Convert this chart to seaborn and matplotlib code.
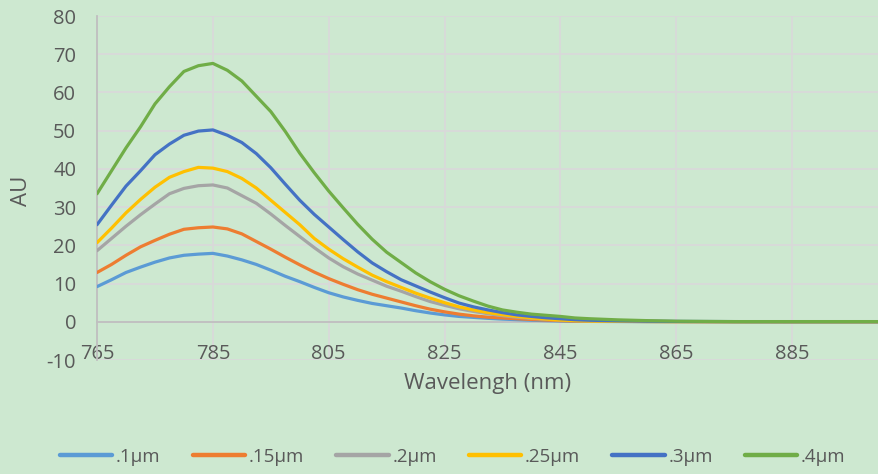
import matplotlib
matplotlib.use("Agg")
import matplotlib.pyplot as plt
import seaborn as sns
import pandas as pd

wavelength = [765, 767.5, 770, 772.5, 775, 777.5, 780, 782.5, 785, 787.5, 790, 792.5, 795, 797.5,
              800, 802.5, 805, 807.5, 810, 812.5, 815, 817.5, 820, 822.5, 825, 827.5, 830, 832.5,
              835, 837.5, 840, 842.5, 845, 847.5, 850, 855, 860, 865, 870, 875, 880, 885, 890, 895, 900]

s_01 = [9.2, 11.0, 12.9, 14.3, 15.6, 16.7, 17.4, 17.7, 17.9, 17.2, 16.2, 15.0, 13.5, 11.9,
        10.5, 9.0, 7.6, 6.5, 5.6, 4.8, 4.2, 3.6, 2.9, 2.3, 1.8, 1.4, 1.15, 0.9,
        0.7, 0.55, 0.4, 0.3, 0.2, 0.15, 0.1, 0.07, 0.05, 0.04, 0.03, 0.03, 0.02, 0.02, 0.02, 0.02, 0.02]
s_015 = [12.9, 15.0, 17.4, 19.6, 21.3, 22.9, 24.2, 24.6, 24.8, 24.3, 23.0, 21.0, 19.0, 16.9,
         14.9, 13.0, 11.3, 9.8, 8.4, 7.2, 6.2, 5.2, 4.2, 3.3, 2.6, 2.0, 1.55, 1.2,
         1.0, 0.8, 0.6, 0.45, 0.3, 0.2, 0.15, 0.1, 0.07, 0.05, 0.04, 0.03, 0.03, 0.02, 0.02, 0.02, 0.02]
s_02 = [18.6, 21.8, 25.0, 28.0, 30.8, 33.5, 34.9, 35.6, 35.8, 35.0, 33.0, 31.0, 28.2, 25.2,
        22.3, 19.4, 16.7, 14.4, 12.5, 10.9, 9.3, 8.0, 6.6, 5.3, 4.3, 3.4, 2.7, 2.1,
        1.6, 1.2, 0.9, 0.65, 0.45, 0.3, 0.2, 0.12, 0.08, 0.05, 0.04, 0.03, 0.03, 0.02, 0.02, 0.02, 0.02]
s_025 = [20.7, 24.5, 28.5, 32.0, 35.2, 37.8, 39.3, 40.4, 40.2, 39.3, 37.5, 35.0, 31.8, 28.6,
         25.4, 21.8, 19.0, 16.5, 14.3, 12.2, 10.5, 9.0, 7.5, 6.2, 5.0, 3.9, 3.1, 2.4,
         1.85, 1.4, 1.0, 0.7, 0.45, 0.3, 0.2, 0.12, 0.08, 0.05, 0.04, 0.03, 0.03, 0.02, 0.02, 0.02, 0.02]
s_03 = [25.4, 30.5, 35.5, 39.5, 43.7, 46.5, 48.8, 49.9, 50.2, 48.8, 46.9, 44.0, 40.3, 36.0,
        31.8, 28.1, 24.8, 21.5, 18.3, 15.4, 13.1, 11.0, 9.4, 7.8, 6.3, 4.9, 3.9, 3.1,
        2.4, 1.8, 1.4, 1.05, 0.8, 0.55, 0.4, 0.25, 0.15, 0.1, 0.07, 0.05, 0.04, 0.03, 0.03, 0.03, 0.03]
s_04 = [33.5, 39.5, 45.5, 51.0, 57.0, 61.5, 65.5, 67.0, 67.6, 65.8, 63.0, 59.0, 55.0, 49.8,
        44.1, 39.0, 34.2, 29.8, 25.5, 21.6, 18.2, 15.5, 12.8, 10.5, 8.5, 6.8, 5.4, 4.1,
        3.1, 2.5, 2.0, 1.7, 1.4, 1.0, 0.8, 0.5, 0.3, 0.15, 0.1, 0.05, 0.05, 0.05, 0.05, 0.05, 0.05]

series_names = [".1µm", ".15µm", ".2µm", ".25µm", ".3µm", ".4µm"]
series_values = [s_01, s_015, s_02, s_025, s_03, s_04]
colors = ["#5B9BD5", "#ED7D31", "#A5A5A5", "#FFC000", "#4472C4", "#70AD47"]

x_ticks = [765, 785, 805, 825, 845, 865, 885]
y_ticks = [-10, 0, 10, 20, 30, 40, 50, 60, 70, 80]

rows = []
for name, vals in zip(series_names, series_values):
    for w, v in zip(wavelength, vals):
        rows.append({"Wavelength": w, "AU": v, "series": name})
df = pd.DataFrame(rows)

bg = "#CDE8D0"
sns.set_theme(style="white")
plt.rcParams["font.family"] = ["Open Sans", "DejaVu Sans"]
plt.rcParams["axes.unicode_minus"] = False

fig = plt.figure(figsize=(8.79, 4.74), dpi=100, facecolor=bg)
ax = fig.add_axes([0.1104, 0.2405, 0.8896, 0.7257])
ax.set_facecolor(bg)

sns.lineplot(data=df, x="Wavelength", y="AU", hue="series", hue_order=series_names,
             palette=colors, linewidth=2.3, ax=ax, legend=True, zorder=3)

ax.set_xlim(765, 900)
ax.set_ylim(-10, 80)
ax.set_xticks(x_ticks)
ax.set_yticks(y_ticks)
ax.grid(True, color="#D9D9D9", linewidth=1.3, zorder=0)
ax.set_axisbelow(True)

for s in ["top", "right"]:
    ax.spines[s].set_visible(False)
ax.spines["bottom"].set_position(("data", 0))
ax.spines["bottom"].set_color("#BFBFBF")
ax.spines["bottom"].set_linewidth(1.3)
ax.spines["left"].set_color("#BFBFBF")
ax.spines["left"].set_linewidth(1.3)

ax.tick_params(axis="both", length=0, labelsize=14.5, labelcolor="#595959")
ax.tick_params(axis="y", pad=15)
ax.tick_params(axis="x", pad=16)

ax.set_xlabel("")
ax.set_ylabel("")
fig.text(0.5548, 1 - 383 / 474, "Wavelengh (nm)", ha="center", va="center",
         fontsize=16, color="#595959")
fig.text(21.5 / 879, 1 - 191 / 474, "AU", ha="center", va="center", rotation=90,
         fontsize=16, color="#595959")

handles, labels = ax.get_legend_handles_labels()
ax.get_legend().remove()
for h in handles:
    h.set_linewidth(3.2)
fig.legend(handles, labels, loc="center", bbox_to_anchor=(0.515, 1 - 457 / 474), ncol=6,
           frameon=False, fontsize=13.5, handlelength=2.8, handletextpad=0.2,
           columnspacing=1.7, labelcolor="#595959")

fig.savefig("out.png", dpi=100, facecolor=bg)
